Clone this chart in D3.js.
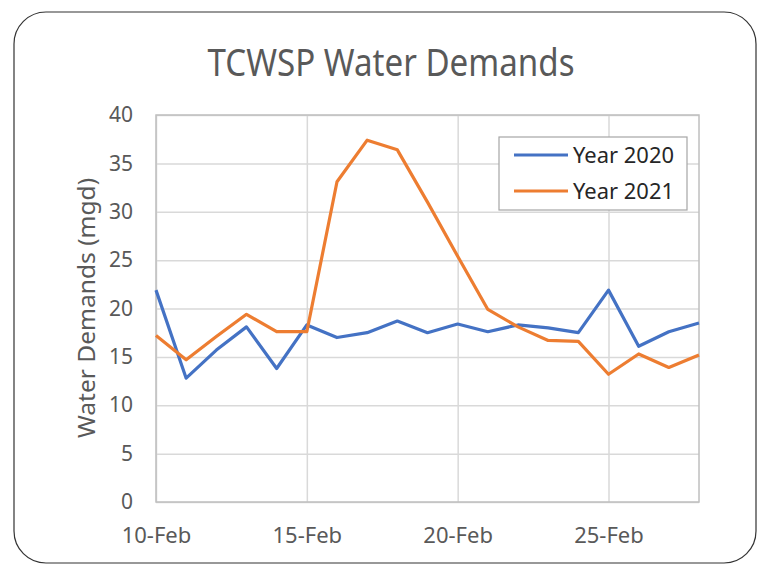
<!DOCTYPE html>
<html>
<head>
<meta charset="utf-8">
<script src="https://cdn.jsdelivr.net/npm/d3@7"></script>
<style>
  body { margin: 0; background: #fff; }
  text { font-family: "Noto Sans", sans-serif; }
</style>
</head>
<body>
<div id="chart"></div>
<script>
// daily values, 10-Feb .. 28-Feb
let days = [10, 11, 12, 13, 14, 15, 16, 17, 18, 19, 20, 21, 22, 23, 24, 25, 26, 27, 28];
let year2020 = [21.9, 12.8, 15.7, 18.1, 13.8, 18.3, 17.0, 17.5, 18.7, 17.5, 18.4, 17.6, 18.3, 18.0, 17.5, 21.9, 16.1, 17.6, 18.5];
let year2021 = [17.2, 14.7, 17.1, 19.4, 17.6, 17.6, 33.1, 37.4, 36.4, 31.0, 25.4, 19.9, 18.1, 16.7, 16.6, 13.2, 15.3, 13.9, 15.2];
let tickDays = [10, 15, 20, 25];
let yTicks = [0, 5, 10, 15, 20, 25, 30, 35, 40];

let seriesNames = ["Year 2020", "Year 2021"];
let colours = ["#4472c4", "#ed7d31"];

function graph(id) {
    let width = 764, height = 564;
    let left = 156, right = 699, top = 115, bottom = 502;

    let svg = d3.select(id)
        .append("svg")
        .attr("width", width)
        .attr("height", height);

    // rounded frame round the whole slide
    svg.append("rect")
        .attr("x", 14).attr("y", 12)
        .attr("width", 742).attr("height", 551)
        .attr("rx", 32)
        .attr("fill", "none")
        .attr("stroke", "#333")
        .attr("stroke-width", 1.2);

    let x = d3.scaleTime()
        .domain([new Date(2021, 1, days[0]), new Date(2021, 1, days[days.length - 1])])
        .range([left, right]);
    let y = d3.scaleLinear()
        .domain([0, 40])
        .range([bottom, top]);

    // horizontal grid
    svg.append("g")
        .attr("transform", `translate(${left},0)`)
        .call(d3.axisLeft(y).tickValues(yTicks).tickSize(-(right - left)).tickFormat(""))
        .call(g => g.select(".domain").remove())
        .selectAll("line").attr("stroke", "#d9d9d9").attr("stroke-width", 1.5);

    // vertical grid
    svg.append("g")
        .attr("transform", `translate(0,${bottom})`)
        .call(d3.axisBottom(x)
            .tickValues(tickDays.map(d => new Date(2021, 1, d)))
            .tickSize(-(bottom - top))
            .tickFormat(""))
        .call(g => g.select(".domain").remove())
        .selectAll("line").attr("stroke", "#d9d9d9").attr("stroke-width", 1.5);

    // plot border
    svg.append("rect")
        .attr("x", left).attr("y", top)
        .attr("width", right - left).attr("height", bottom - top)
        .attr("fill", "none")
        .attr("stroke", "#bfbfbf")
        .attr("stroke-width", 1.5);

    // y tick labels
    svg.append("g")
        .attr("transform", `translate(${left},0)`)
        .call(d3.axisLeft(y).tickValues(yTicks).tickSize(0).tickPadding(23))
        .call(g => g.select(".domain").remove())
        .selectAll("text")
        .attr("fill", "#595959")
        .style("font-size", "21px")
        .style("font-family", "Noto Sans");

    // x tick labels
    svg.append("g")
        .attr("transform", `translate(0,${bottom})`)
        .call(d3.axisBottom(x)
            .tickValues(tickDays.map(d => new Date(2021, 1, d)))
            .tickSize(0).tickPadding(25)
            .tickFormat(d3.timeFormat("%-d-%b")))
        .call(g => g.select(".domain").remove())
        .selectAll("text")
        .attr("fill", "#595959")
        .style("font-size", "22px")
        .style("font-family", "Noto Sans");

    // lines
    let line = d3.line()
        .x((d, i) => x(new Date(2021, 1, days[i])))
        .y(d => y(d));

    [year2020, year2021].forEach((vals, i) => {
        svg.append("path")
            .datum(vals)
            .attr("d", line)
            .attr("fill", "none")
            .attr("stroke", colours[i])
            .attr("stroke-width", 3.2)
            .attr("stroke-linejoin", "round");
    });

    // title
    svg.append("text")
        .attr("x", 391).attr("y", 76)
        .attr("text-anchor", "middle")
        .attr("textLength", 367)
        .attr("lengthAdjust", "spacingAndGlyphs")
        .attr("fill", "#595959")
        .style("font-size", "38px")
        .text("TCWSP Water Demands");

    // y axis title
    svg.append("text")
        .attr("transform", "translate(95,308) rotate(-90)")
        .attr("text-anchor", "middle")
        .attr("textLength", 260)
        .attr("lengthAdjust", "spacingAndGlyphs")
        .attr("fill", "#595959")
        .style("font-size", "23px")
        .text("Water Demands (mgd)");

    // legend
    let legend = svg.append("g");
    legend.append("rect")
        .attr("x", 499).attr("y", 137)
        .attr("width", 188).attr("height", 73)
        .attr("fill", "#fff")
        .attr("stroke", "#a6a6a6")
        .attr("stroke-width", 1.2);
    seriesNames.forEach((name, i) => {
        let ly = 155 + i * 36;
        legend.append("line")
            .attr("x1", 514).attr("x2", 568)
            .attr("y1", ly).attr("y2", ly)
            .attr("stroke", colours[i])
            .attr("stroke-width", 3.2);
        legend.append("text")
            .attr("x", 573).attr("y", ly + 8)
            .attr("textLength", 101)
            .attr("lengthAdjust", "spacingAndGlyphs")
            .attr("fill", "#262626")
            .style("font-size", "22px")
            .text(name);
    });
}

graph("#chart");
</script>
</body>
</html>
